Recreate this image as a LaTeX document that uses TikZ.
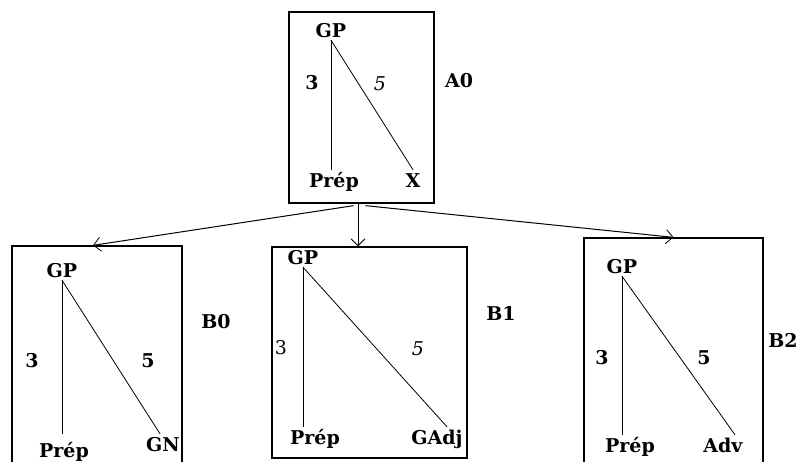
\documentclass[tikz,border=0pt]{standalone}
\usepackage{fontspec}
\setmainfont{DejaVu Serif}
\usepackage{tikz}
\usetikzlibrary{positioning,arrows.meta}

\begin{document}
\begin{tikzpicture}[x=1pt,y=-1pt,
  every node/.style={font=\fontsize{19}{21}\selectfont\bfseries,inner xsep=0pt,inner ysep=3pt,text height=14pt,text depth=0pt},
  box/.style={draw,line width=1.3pt,inner sep=0pt,text height=,text depth=},
  light/.style={font=\fontsize{19}{21}\selectfont\mdseries},
  slant/.style={font=\fontsize{19}{21}\selectfont\mdseries\itshape},
  tree/.style={line width=0.8pt},
  arr/.style={line width=1pt,-{Straight Barb[length=7pt,width=14pt,line width=0.8pt]}}]
  \clip (0,0) rectangle (798,461);

  % the four boxes
  \node[box,minimum width=145pt,minimum height=191pt] (a0) at (361.5,107.5) {};
  \node[box,minimum width=170pt,minimum height=240pt] (b0) at (97,366) {};
  \node[box,minimum width=195pt,minimum height=211pt] (b1) at (369.5,352.5) {};
  \node[box,minimum width=179pt,minimum height=250pt] (b2) at (673.5,363) {};

  \node (a0name) at (459,80) {A0};
  \node (b0name) at (216,321) {B0};
  \node (b1name) at (501,313) {B1};
  \node (b2name) at (783,340) {B2};

  % A0
  \node (a0gp) at (331,30) {GP};
  \node (a0prep) at (334,180) {Prép};
  \node (a0x) at (413,180) {X};
  \node (a0three) at (312,82) {3};
  \node[slant] (a0five) at (380,83) {5};
  \draw[tree] (a0gp.south) -- (a0gp.south |- a0x.north);
  \draw[tree] (a0gp.south) -- (a0x.north);

  % B0
  \node (b0gp) at (62,270) {GP};
  \node (b0prep) at (64,450) {Prép};
  \node (b0gn) at (163,444) {GN};
  \node (b0three) at (32,360) {3};
  \node (b0five) at (148,360) {5};
  \draw[tree] (b0gp.south) -- (b0gp.south |- b0gn.north);
  \draw[tree] (b0gp.south) -- ([xshift=-3pt]b0gn.north);

  % B1
  \node (b1gp) at (303,257) {GP};
  \node (b1prep) at (315,437) {Prép};
  \node (b1adj) at (437,437) {GAdj};
  \node[light] (b1three) at (281,347) {3};
  \node[slant] (b1five) at (418,348) {5};
  \draw[tree] (b1gp.south) -- (b1gp.south |- b1adj.north);
  \draw[tree] (b1gp.south) -- ([xshift=10pt]b1adj.north);

  % B2
  \node (b2gp) at (622,266) {GP};
  \node (b2prep) at (630,445) {Prép};
  \node (b2adv) at (723,445) {Adv};
  \node (b2three) at (602,357) {3};
  \node (b2five) at (704,357) {5};
  \draw[tree] (b2gp.south) -- (b2gp.south |- b2adv.north);
  \draw[tree] (b2gp.south) -- ([xshift=12pt]b2adv.north);

  % arrows from A0 down to the B boxes
  \draw[arr] ([xshift=-8pt,yshift=-2pt]a0.south) -- ([xshift=-4pt]b0.north);
  \draw[arr] ([xshift=-3.5pt]a0.south) -- ([xshift=-3.5pt]a0.south |- b1.north);
  \draw[arr] ([xshift=4pt,yshift=-2pt]a0.south) -- (b2.north);
\end{tikzpicture}
\end{document}
